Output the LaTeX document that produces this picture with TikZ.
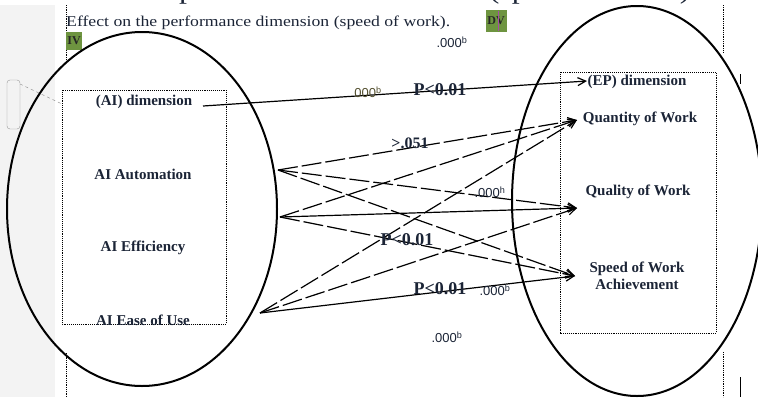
\documentclass[tikz,border=0pt]{standalone}
\usepackage{fontspec}
\setmainfont{Liberation Serif}
\newfontfamily\titlefont[FakeStretch=1.18]{Liberation Serif}
\newfontfamily\numfont{Liberation Sans}
\usetikzlibrary{arrows.meta}
\definecolor{lbl}{HTML}{1B2436}
\definecolor{tagbg}{HTML}{6E9440}
\definecolor{margin}{HTML}{F3F3F3}
\tikzset{
  varlbl/.style={font=\bfseries\fontsize{15}{17}\selectfont, text=lbl, inner sep=1pt},
  plbl/.style={font=\bfseries\fontsize{18}{20}\selectfont, text=lbl, inner sep=0pt},
  numlbl/.style={font=\numfont\fontsize{13}{15}\selectfont, text=lbl, inner sep=0pt},
  tagbox/.style={fill=tagbg, text=black!85, font=\bfseries\fontsize{12}{13}\selectfont, inner sep=0pt},
  link/.style={line width=1.2pt, -{Straight Barb[length=8pt,width=8pt]}},
  dlink/.style={link, dash pattern=on 20pt off 4pt},
  pageline/.style={densely dotted, line width=0.8pt}
}
\begin{document}
\begin{tikzpicture}[x=1pt,y=-1pt]
    \useasboundingbox (0,0) rectangle (758,397);
    % Gray page margin and comment box
    \fill[margin] (0,5) rectangle (55,397);
    \draw[black!40, rounded corners=3pt] (7,80) rectangle (20,129);
    \draw[black!45, dashed] (20,84) -- (62,104);
    % Page margin lines
    \draw[pageline] (66,5) -- (66,62);
    \draw[pageline] (66,353) -- (66,397);
    \draw[pageline] (723,5) -- (723,53);
    \draw[pageline] (723,352) -- (723,397);
    % Heading lines
    \node[anchor=base west, inner sep=0pt, text=lbl] (bigtitle) at (7,-2)
      {\titlefont\fontsize{27}{30}\selectfont Effect on the performance dimension (speed of work)};
    \node[anchor=base west, inner sep=0pt, text=lbl] (title) at (66,26)
      {\titlefont\fontsize{15}{18}\selectfont Effect on the performance dimension (speed of work).};
    \node[tagbox, minimum width=16pt, minimum height=18pt] (iv) at (74,41) {IV};
    \node[tagbox, minimum width=21pt, minimum height=22pt] (dv) at (496,21) {DV};
    \draw[violet!70, line width=1pt] (498,11) -- (498,31);
    % Ellipses
    \draw[line width=2pt] (142,209) ellipse [x radius=135pt, y radius=177pt];
    \draw[line width=2pt] (637,201) ellipse [x radius=125pt, y radius=195pt];
    \draw[line width=1pt] (740,74) -- (740,84);
    \draw[line width=1pt] (740,377) -- (740,397);
    % Dotted boxes
    \draw[densely dotted, line width=0.9pt] (62,90) rectangle (226,324);
    \draw[densely dotted, line width=0.9pt] (560,72) rectangle (716,333);
    % IV labels
    \node[varlbl] (aidim) at (144,102) {(AI) dimension};
    \node[varlbl] (aiaut) at (143,174) {AI Automation};
    \node[varlbl] (aieff) at (143,248) {AI Efficiency};
    \node[varlbl] (aiease) at (143,320) {AI Ease of Use};
    % DV labels
    \node[varlbl] (epdim) at (637,82) {(EP) dimension};
    \node[varlbl] (quant) at (640,119) {Quantity of Work};
    \node[varlbl] (qual) at (638,192) {Quality of Work};
    \node[varlbl, align=center] (speed) at (637,276) {Speed of Work\\Achievement};
    % Line ends
    \coordinate (sdim) at (203,106);
    \coordinate (saut) at (278,170);
    \coordinate (seff) at (280,217);
    \coordinate (sease) at (260,313);
    \coordinate (tep) at (587,81);
    \coordinate (tquant) at (577,120);
    \coordinate (tqual) at (577,208);
    \coordinate (tspeed) at (575,276);
    % Connectors
    \draw[link] (sdim) -- (tep);
    \draw[dlink] (saut) -- (tquant);
    \draw[dlink] (saut) -- (tqual);
    \draw[dlink] (saut) -- (tspeed);
    \draw[dlink] (seff) -- (tquant);
    \draw[link] (seff) -- (tqual);
    \draw[dlink] (seff) -- (tspeed);
    \draw[dlink] (sease) -- (tquant);
    \draw[dlink] (sease) -- (tqual);
    \draw[link] (sease) -- (tspeed);
    % Significance labels
    \node[numlbl] (ntop) at (452,42) {.000\textsuperscript{b}};
    \node[numlbl, text=black!55!olive] (ndim) at (368,92) {000\textsuperscript{b}};
    \node[plbl] (pdim) at (440,90) {P<0.01};
    \node[plbl, font=\bfseries\fontsize{16}{18}\selectfont] (paut) at (410,143) {>.051};
    \node[numlbl] (nqual) at (490,192) {.000\textsuperscript{h}};
    \node[plbl] (peff) at (407,240) {P<0.01};
    \node[plbl] (pease) at (440,289) {P<0.01};
    \node[numlbl] (nease) at (495,290) {.000\textsuperscript{b}};
    \node[numlbl] (nbot) at (447,337) {.000\textsuperscript{b}};
\end{tikzpicture}
\end{document}
